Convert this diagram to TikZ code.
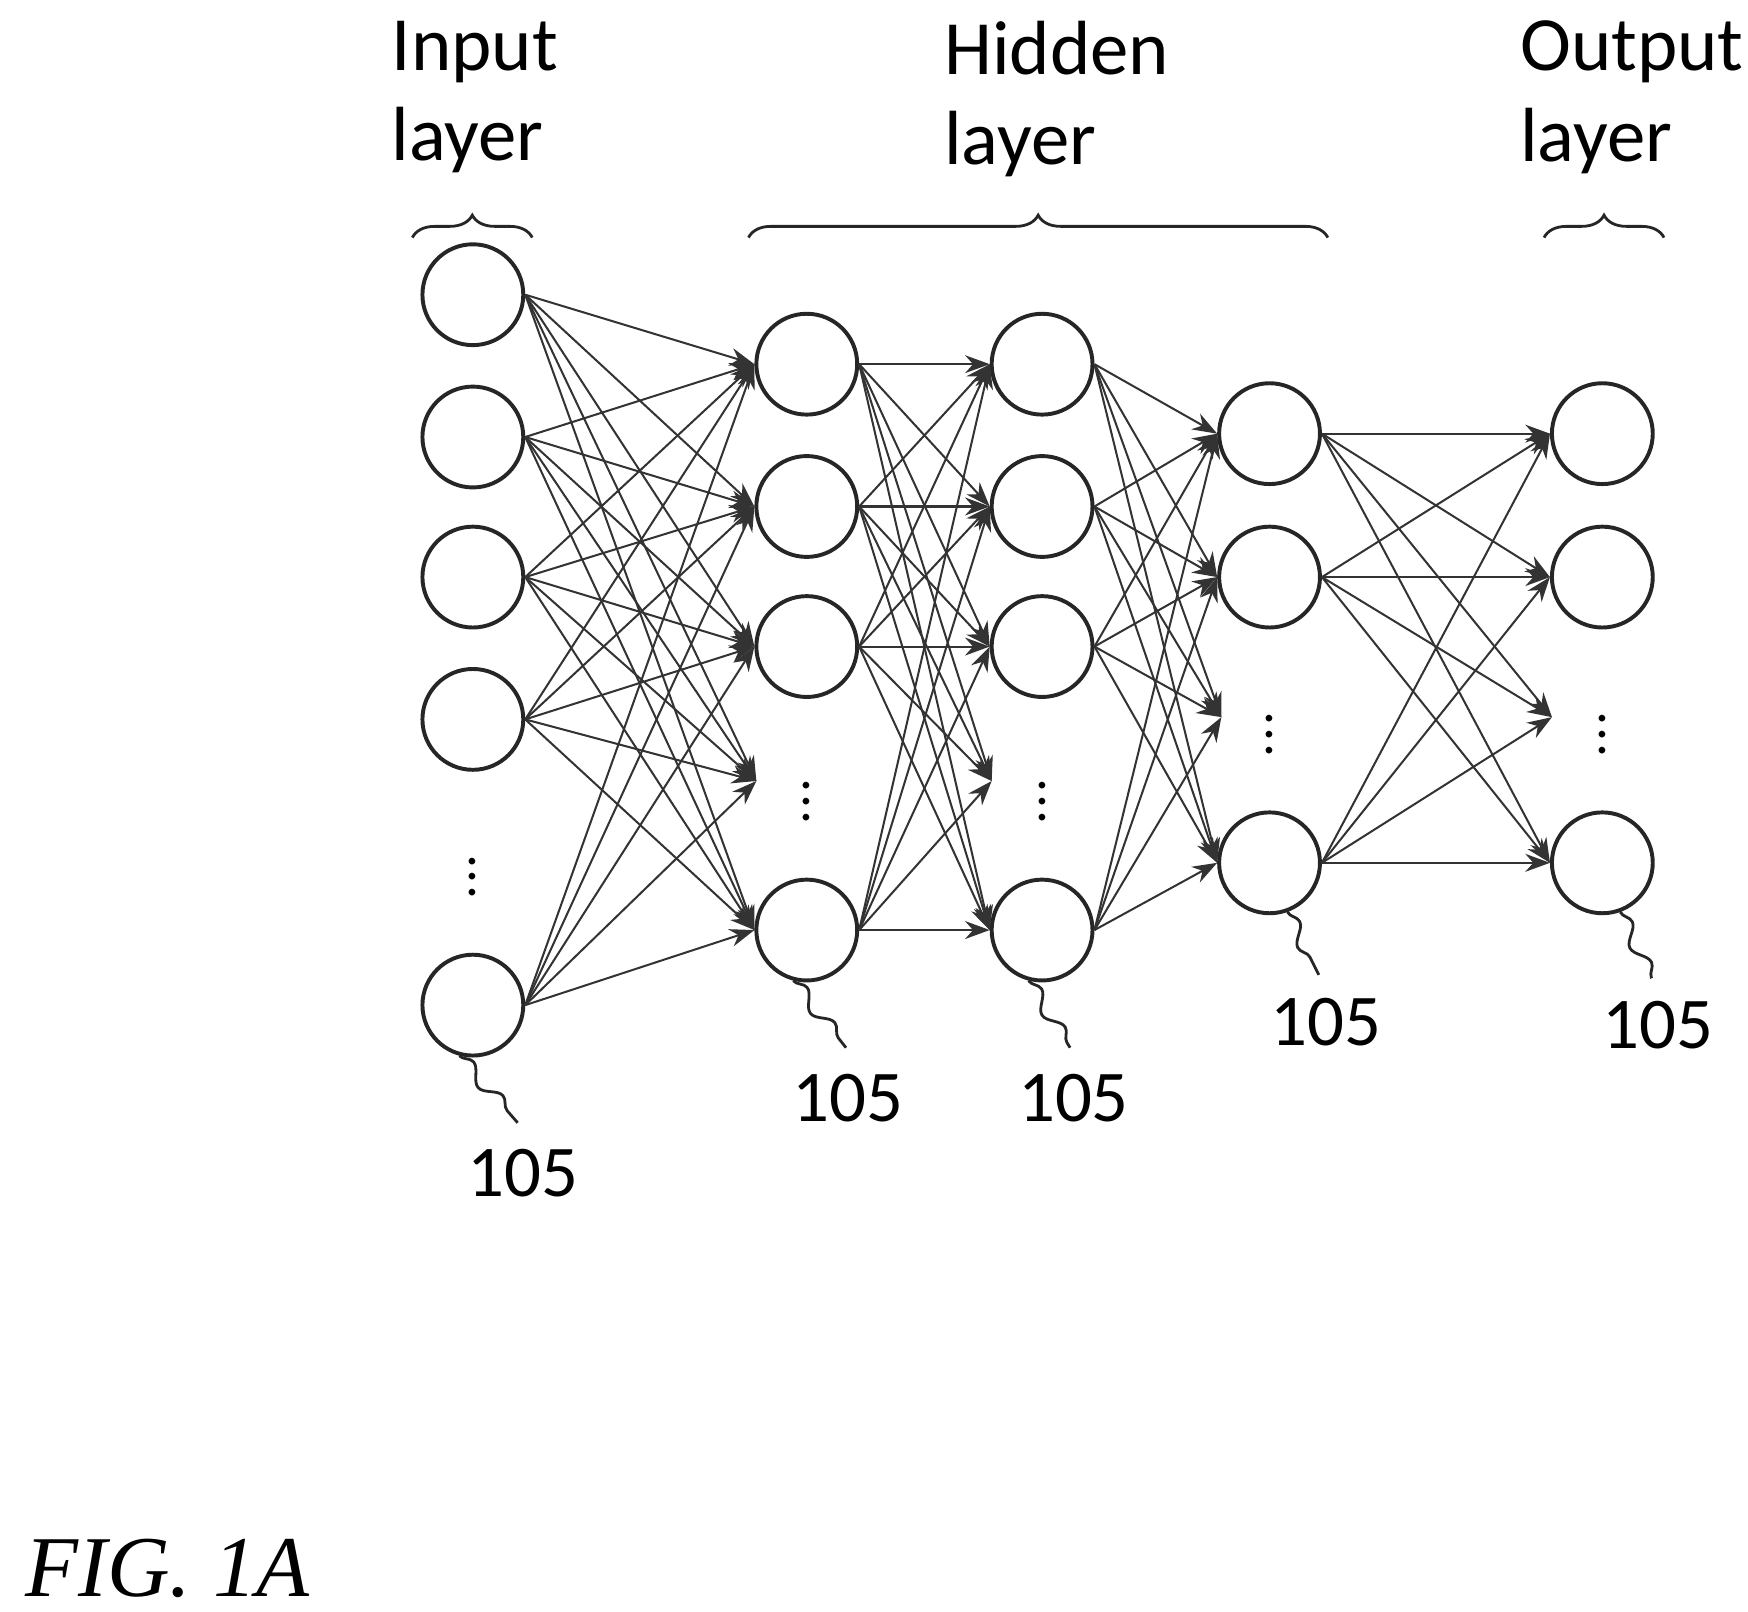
\documentclass[tikz,border=0pt]{standalone}
\usepackage{fontspec}
\setmainfont{Carlito}
\newfontfamily\figfont{Liberation Serif}
\usetikzlibrary{arrows.meta,decorations.pathreplacing,decorations.pathmorphing}
\begin{document}
\begin{tikzpicture}[x=0.1mm,y=-0.1mm,
  neuron/.style={circle,draw=black!85,line width=0.35mm,minimum size=9mm,inner sep=0},
  conn/.style={draw=black!80,line width=0.18mm,-{Stealth[length=2.2mm,width=1.6mm]}},
  lab/.style={font=\fontsize{19.5}{23}\selectfont,align=left,anchor=north west,inner sep=0},
  num/.style={font=\fontsize{18.5}{22}\selectfont,inner sep=0},
  brc/.style={draw=black!85,line width=0.25mm,decorate,decoration={brace,amplitude=2mm}},
  lead/.style={draw=black!85,line width=0.25mm},
  vdots/.style={font=\fontsize{14}{14}\selectfont,inner sep=0}]
\useasboundingbox (0,0) rectangle (1560,1438);
% labels
\node[lab] at (349,18) {Input\\layer};
\node[lab] at (842,18) {Hidden\\layer};
\node[lab] at (1356,18) {Output\\layer};
\draw[brc] (368,212) -- (475,212);
\draw[brc] (668,212) -- (1185,212);
\draw[brc] (1378,212) -- (1485,212);
% nodes
\foreach \i/\y in {1/263,2/390,3/515,4/642,5/897} \node[neuron] (a\i) at (422,\y) {};
\foreach \i/\y in {1/325,2/452,3/577,5/830} {
  \node[neuron] (b\i) at (720,\y) {};
  \node[neuron] (c\i) at (930,\y) {};}
\foreach \i/\y in {1/387,2/515,5/770} {
  \node[neuron] (d\i) at (1133,\y) {};
  \node[neuron] (e\i) at (1430,\y) {};}
\node[vdots] at (422,772) {$\vdots$};
\node[vdots] at (720,705) {$\vdots$};
\node[vdots] at (930,705) {$\vdots$};
\node[vdots] at (1133,645) {$\vdots$};
\node[vdots] at (1430,645) {$\vdots$};
\coordinate (b4) at (675,697);
\coordinate (c4) at (885,697);
\coordinate (d4) at (1090,640);
\coordinate (e4) at (1385,640);
% connections
\foreach \s in {1,2,3,4,5} {\foreach \t in {1,2,3,5} \draw[conn] (a\s.east) -- (b\t.west); \draw[conn] (a\s.east) -- (b4);}
\foreach \s in {1,2,3,5} {\foreach \t in {1,2,3,5} \draw[conn] (b\s.east) -- (c\t.west); \draw[conn] (b\s.east) -- (c4);}
\foreach \s in {1,2,3,5} {\foreach \t in {1,2,5} \draw[conn] (c\s.east) -- (d\t.west); \draw[conn] (c\s.east) -- (d4);}
\foreach \s in {1,2,5} {\foreach \t in {1,2,5} \draw[conn] (d\s.east) -- (e\t.west); \draw[conn] (d\s.east) -- (e4);}
% leaders
\draw[lead,decorate,decoration={snake,amplitude=0.6mm,segment length=4mm}] (a5.-105) -- (462,1002);
\node[num] at (467,1047) {105};
\draw[lead,decorate,decoration={snake,amplitude=0.6mm,segment length=4mm}] (b5.-105) -- (755,935);
\node[num] at (757,980) {105};
\draw[lead,decorate,decoration={snake,amplitude=0.6mm,segment length=4mm}] (c5.-105) -- (955,935);
\node[num] at (958,980) {105};
\draw[lead,decorate,decoration={snake,amplitude=0.6mm,segment length=4mm}] (d5.-70) -- (1177,870);
\node[num] at (1183,912) {105};
\draw[lead,decorate,decoration={snake,amplitude=0.6mm,segment length=4mm}] (e5.-70) -- (1474,873);
\node[num] at (1480,915) {105};
\node[font=\figfont\itshape\fontsize{22}{24}\selectfont,anchor=west,inner sep=0] at (22,1400) {FIG. 1A};
\end{tikzpicture}
\end{document}
